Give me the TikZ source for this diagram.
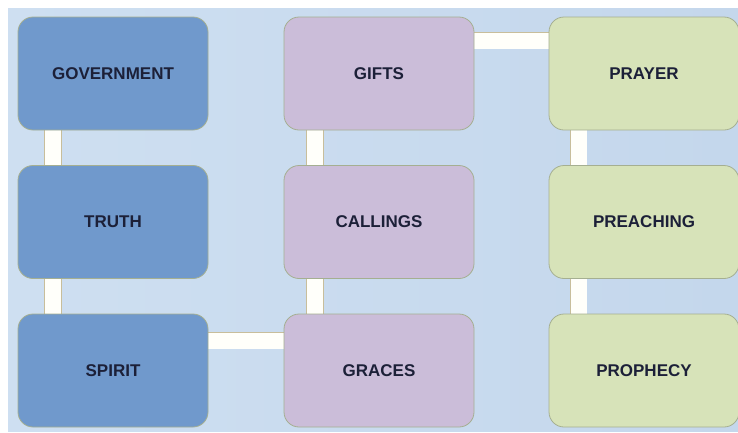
\documentclass[tikz,border=0pt]{standalone}
\usepackage{fontspec}
\setmainfont{Liberation Sans}
\usepackage{tikz}
\pgfdeclarelayer{background}
\pgfdeclarelayer{links}
\pgfsetlayers{background,links,main}

\definecolor{bluebox}{RGB}{112,153,204}
\definecolor{purplebox}{RGB}{203,189,217}
\definecolor{greenbox}{RGB}{215,227,185}
\definecolor{boxline}{RGB}{165,175,145}
\definecolor{linkline}{RGB}{200,190,155}
\definecolor{linkfill}{RGB}{255,255,250}
\definecolor{labeltext}{RGB}{28,32,56}

\begin{document}
\begin{tikzpicture}[x=1pt,y=-1pt,
							stepbox/.style={rectangle, rounded corners=15pt, draw=boxline, line width=0.8pt, minimum width=190pt, minimum height=113pt, inner sep=0pt, text=labeltext, font=\fontsize{17}{20}\selectfont\bfseries},
							link/.style={draw=linkline, line width=0.7pt, double=linkfill, double distance=16pt},
							]
							\useasboundingbox (0,0) rectangle (738,432);
							%Nodes
							\node[stepbox, fill=bluebox]      (gov) 	at 	(113,73.5)      {GOVERNMENT};
							\node[stepbox, fill=bluebox]      (tru) 	at 	(113,222)       {TRUTH};
							\node[stepbox, fill=bluebox]      (spi) 	at 	(113,370.5)     {SPIRIT};
							\node[stepbox, fill=purplebox]    (gif) 	at 	(379,73.5)      {GIFTS};
							\node[stepbox, fill=purplebox]    (cal) 	at 	(379,222)       {CALLINGS};
							\node[stepbox, fill=purplebox]    (gra) 	at 	(379,370.5)     {GRACES};
							\node[stepbox, fill=greenbox]     (pra) 	at 	(644,73.5)      {PRAYER};
							\node[stepbox, fill=greenbox]     (pre) 	at 	(644,222)       {PREACHING};
							\node[stepbox, fill=greenbox]     (pro) 	at 	(644,370.5)     {PROPHECY};

							\begin{pgfonlayer}{background}
							%Background
							\shade[left color={rgb,255:red,206;green,223;blue,241}, right color={rgb,255:red,196;green,215;blue,236}] (8,8) rectangle (738,431);
							\end{pgfonlayer}

							\begin{pgfonlayer}{links}
							%Lines
							\draw[link] ([xshift=35.5pt]gov.south west) --  ([xshift=35.5pt]tru.north west);
							\draw[link] ([xshift=35.5pt]tru.south west) --  ([xshift=35.5pt]spi.north west);
							\draw[link] ([xshift=31.5pt]gif.south west) --  ([xshift=31.5pt]cal.north west);
							\draw[link] ([xshift=31.5pt]cal.south west) --  ([xshift=31.5pt]gra.north west);
							\draw[link] ([xshift=30pt]pra.south west) --  ([xshift=30pt]pre.north west);
							\draw[link] ([xshift=30pt]pre.south west) --  ([xshift=30pt]pro.north west);
							\draw[link] ([yshift=-24pt]gif.north east) --  ([yshift=-24pt]pra.north west);
							\draw[link] ([yshift=-27pt]spi.north east) --  ([yshift=-27pt]gra.north west);
							\end{pgfonlayer}
						\end{tikzpicture}
\end{document}
